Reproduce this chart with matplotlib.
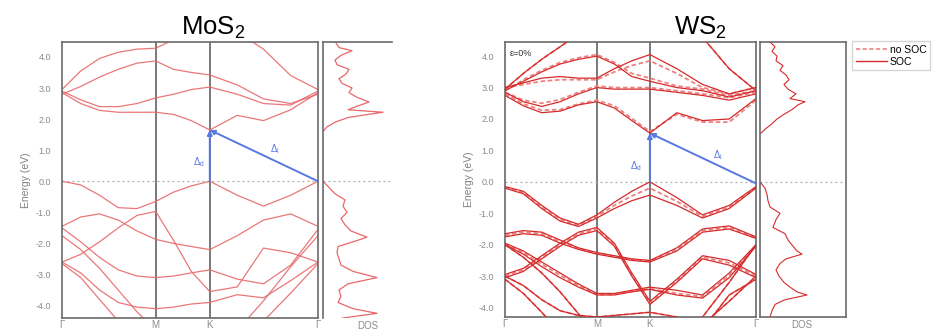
import matplotlib
matplotlib.use('Agg')
import matplotlib.pyplot as plt
from matplotlib.lines import Line2D

# ==========================================
# 1. DATA
# ==========================================
# k-path positions (Gamma-M = 1): G, M, K, G plus sample points in between
kpts = [0.0, 0.2, 0.4, 0.6, 0.8, 1.0, 1.19, 1.38, 1.577, 1.87, 2.15, 2.44, 2.732]
hs_pos = [0.0, 1.0, 1.577, 2.732]
hs_labels = ['Γ', 'M', 'K', 'Γ']

# MoS2 bands (eV)
mos2_c1 = [2.85, 2.5, 2.28, 2.22, 2.22, 2.22, 2.15, 1.95, 1.65, 2.12, 1.95, 2.3, 2.85]
mos2_c2 = [2.9, 2.62, 2.4, 2.4, 2.5, 2.68, 2.8, 2.95, 3.03, 2.8, 2.5, 2.45, 2.9]
mos2_c3 = [2.8, 3.05, 3.35, 3.6, 3.8, 3.87, 3.6, 3.5, 3.42, 3.1, 2.65, 2.5, 2.8]
mos2_c4 = [2.95, 3.55, 3.95, 4.15, 4.25, 4.28, 4.55, 4.8, 4.9, 4.8, 4.25, 3.4, 2.95]
mos2_v1 = [0.0, -0.12, -0.45, -0.85, -0.88, -0.65, -0.35, -0.15, 0.0, -0.45, -0.8, -0.45, 0.0]
mos2_v2 = [-1.45, -1.15, -1.05, -1.25, -1.6, -1.87, -2.0, -2.1, -2.2, -1.75, -1.25, -1.05, -1.45]
mos2_v3 = [-1.5, -1.95, -2.45, -2.85, -3.05, -3.1, -3.05, -2.95, -2.85, -3.15, -3.3, -2.7, -1.55]
mos2_v4 = [-2.6, -2.35, -1.95, -1.5, -1.1, -0.97, -1.9, -2.9, -3.55, -3.4, -2.15, -2.3, -2.6]
mos2_v5 = [-1.75, -2.2, -2.8, -3.5, -4.2, -4.8, -5.2, -5.3, -5.3, -4.8, -3.85, -2.75, -1.75]
mos2_v6 = [-2.6, -2.95, -3.5, -3.9, -4.05, -4.1, -4.05, -3.95, -3.9, -3.65, -3.75, -3.2, -2.6]
mos2_v7 = [-2.65, -3.1, -3.8, -4.5, -5.1, -5.5, -5.6, -5.6, -5.6, -5.3, -4.5, -3.6, -2.65]

# MoS2 DOS (arb. units)
mos2_dos_e_val = [-4.5, -4.4, -4.25, -4.1, -3.9, -3.7, -3.5, -3.3, -3.1, -2.9, -2.7, -2.5, -2.3,
                  -2.1, -1.95, -1.8, -1.6, -1.4, -1.2, -1.0, -0.8, -0.6, -0.4, -0.2, 0.0]
mos2_dos_val = [1.0, 2.0, 5.4, 3.0, 1.5, 1.8, 1.6, 2.5, 5.4, 3.0, 1.8, 1.6, 1.4,
                1.5, 3.0, 4.4, 2.8, 2.2, 1.8, 2.4, 2.0, 2.2, 1.2, 0.6, 0.0]
mos2_dos_e_con = [1.6, 1.75, 1.9, 2.05, 2.15, 2.22, 2.3, 2.4, 2.55, 2.7, 2.85, 3.0, 3.15,
                  3.3, 3.45, 3.6, 3.75, 3.9, 4.05, 4.2, 4.3, 4.45]
mos2_dos_con = [0.0, 0.4, 1.2, 2.5, 4.5, 6.0, 2.5, 3.3, 4.6, 3.4, 2.6, 2.9, 1.9,
                1.6, 2.3, 2.6, 1.4, 1.2, 1.8, 2.9, 1.6, 1.3]

# WS2 bands with SOC (eV)
ws2_c1 = [2.75, 2.42, 2.2, 2.25, 2.45, 2.55, 2.35, 1.95, 1.55, 2.2, 1.95, 2.0, 2.65]
ws2_c2 = [2.85, 2.55, 2.4, 2.55, 2.8, 3.0, 2.95, 2.95, 2.95, 2.85, 2.75, 2.6, 2.8]
ws2_c3 = [2.9, 3.2, 3.5, 3.75, 3.9, 4.0, 3.75, 3.35, 3.2, 3.0, 2.9, 2.7, 2.9]
ws2_c4 = [2.95, 3.45, 3.9, 4.3, 4.7, 5.0, 5.0, 5.0, 5.0, 5.0, 4.6, 3.6, 2.9]
ws2_c5 = [3.0, 3.15, 3.3, 3.35, 3.3, 3.3, 3.6, 3.85, 4.05, 3.6, 3.1, 2.8, 3.0]
ws2_v1a = [-0.15, -0.3, -0.75, -1.15, -1.35, -1.05, -0.65, -0.3, 0.0, -0.5, -1.05, -0.75, -0.15]
ws2_v1b = [-0.2, -0.38, -0.85, -1.25, -1.42, -1.15, -0.85, -0.6, -0.42, -0.75, -1.15, -0.85, -0.2]
ws2_v2a = [-1.65, -1.55, -1.6, -1.85, -2.1, -2.25, -2.35, -2.45, -2.5, -2.1, -1.5, -1.4, -1.75]
ws2_v2b = [-1.75, -1.65, -1.7, -1.95, -2.15, -2.3, -2.4, -2.5, -2.55, -2.2, -1.6, -1.5, -1.8]
ws2_v3a = [-1.95, -2.2, -2.55, -2.9, -3.25, -3.55, -3.55, -3.45, -3.35, -3.45, -3.6, -2.9, -2.0]
ws2_v3b = [-2.0, -2.3, -2.7, -3.05, -3.35, -3.6, -3.6, -3.5, -3.42, -3.6, -3.7, -3.05, -2.05]
ws2_v4a = [-2.95, -2.75, -2.35, -1.95, -1.6, -1.45, -1.95, -2.9, -3.8, -3.1, -2.35, -2.5, -2.95]
ws2_v4b = [-3.05, -2.85, -2.45, -2.05, -1.7, -1.55, -2.05, -3.0, -3.9, -3.2, -2.45, -2.65, -3.05]
ws2_v5 = [-2.0, -2.4, -2.9, -3.5, -4.2, -4.8, -5.2, -5.4, -5.4, -5.0, -4.3, -3.2, -2.0]
ws2_v6 = [-3.0, -3.3, -3.75, -4.1, -4.25, -4.3, -4.25, -4.2, -4.15, -4.3, -4.55, -3.8, -3.0]
ws2_v7 = [-3.1, -3.55, -4.15, -4.8, -5.3, -5.6, -5.6, -5.6, -5.6, -5.4, -4.7, -3.6, -3.1]

# WS2 bands without SOC (eV)
ws2_ns_c1 = [2.8, 2.48, 2.28, 2.3, 2.48, 2.6, 2.42, 2.02, 1.6, 2.15, 1.9, 1.9, 2.6]
ws2_ns_c2 = [2.85, 2.6, 2.5, 2.62, 2.85, 3.05, 3.0, 3.0, 3.0, 2.9, 2.8, 2.68, 2.85]
ws2_ns_c3 = [2.9, 3.25, 3.55, 3.8, 3.95, 4.05, 3.8, 3.45, 3.3, 3.05, 2.95, 2.75, 2.9]
ws2_ns_c5 = [3.0, 3.1, 3.2, 3.25, 3.25, 3.25, 3.5, 3.7, 3.85, 3.45, 3.0, 2.8, 3.0]
ws2_ns_v1 = [-0.17, -0.34, -0.8, -1.2, -1.38, -1.1, -0.75, -0.45, -0.2, -0.62, -1.1, -0.8, -0.17]
ws2_ns_v2 = [-1.7, -1.6, -1.65, -1.9, -2.12, -2.27, -2.37, -2.47, -2.52, -2.15, -1.55, -1.45, -1.78]
ws2_ns_v3 = [-1.97, -2.25, -2.62, -2.97, -3.3, -3.58, -3.58, -3.48, -3.4, -3.55, -3.65, -2.98, -2.02]
ws2_ns_v4 = [-3.0, -2.8, -2.4, -2.0, -1.65, -1.5, -2.0, -2.95, -3.85, -3.15, -2.4, -2.58, -3.0]

# WS2 DOS (arb. units)
ws2_dos_e_val = [0.0, -0.2, -0.4, -0.6, -0.8, -1.0, -1.2, -1.45, -1.65, -1.85, -2.05, -2.2, -2.3,
                 -2.45, -2.6, -2.8, -3.0, -3.2, -3.35, -3.5, -3.6, -3.75, -3.9, -4.1, -4.3]
ws2_dos_val = [0.0, 0.5, 0.7, 0.8, 1.0, 2.0, 1.6, 1.3, 2.5, 2.8, 3.3, 3.7, 4.2,
               2.6, 2.0, 1.6, 1.9, 2.4, 3.0, 3.7, 4.7, 2.5, 1.5, 1.2, 1.0]
ws2_dos_e_con = [1.55, 1.7, 1.85, 2.0, 2.15, 2.3, 2.45, 2.55, 2.65, 2.8, 2.95, 3.1, 3.25,
                 3.4, 3.55, 3.7, 3.85, 4.0, 4.15, 4.3, 4.45]
ws2_dos_con = [0.1, 0.6, 1.2, 1.7, 2.4, 3.2, 3.8, 4.5, 3.0, 3.6, 2.8, 2.4, 2.9,
               2.6, 2.0, 2.3, 1.6, 1.7, 1.2, 1.5, 1.0]

# gap arrows: band edges (k, E)
mos2_vbm_k, mos2_vbm_e, mos2_cbm_k, mos2_cbm_e = 2.732, 0.0, 1.577, 1.65
ws2_vbm_k, ws2_vbm_e, ws2_cbm_k, ws2_cbm_e = 2.732, -0.05, 1.577, 1.55

# ==========================================
# 2. STYLE
# ==========================================
plt.rcParams['font.family'] = ['Liberation Sans', 'DejaVu Sans']
plt.rcParams['mathtext.default'] = 'regular'

band_red = '#e8686a'
soc_red = '#d62a2a'
nosoc_red = '#ee8080'
frame = '#6a6a6a'
tick_grey = '#8a8a8a'
blue = '#5878e0'

W, H = 940, 333
fig = plt.figure(figsize=(W / 100, H / 100), dpi=100)


def px_axes(x0, x1, y0, y1):
    return fig.add_axes([x0 / W, 1 - y1 / H, (x1 - x0) / W, (y1 - y0) / H])


def style_band_ax(ax, ylim):
    ax.set_xlim(0, 2.732)
    ax.set_ylim(*ylim)
    for x in hs_pos[1:3]:
        ax.axvline(x, color='#555555', lw=1.1, zorder=1)
    ax.axhline(0, color='#aaaaaa', lw=0.9, ls=(0, (1.5, 2.5)), zorder=1)
    ax.set_xticks(hs_pos)
    ax.set_xticklabels(hs_labels)
    ax.set_yticks([-4, -3, -2, -1, 0, 1, 2, 3, 4])
    ax.set_yticklabels(['%.1f' % v for v in [-4, -3, -2, -1, 0, 1, 2, 3, 4]])
    ax.tick_params(axis='x', length=0, labelsize=7, colors=tick_grey, pad=1.5)
    ax.tick_params(axis='y', length=0, labelsize=6.5, colors=tick_grey, pad=8)
    ax.set_ylabel('Energy (eV)', fontsize=7.5, color='#808080', labelpad=3)
    for s in ax.spines.values():
        s.set_color(frame)
        s.set_linewidth(1.2)


def style_dos_ax(ax, xmax, ylim):
    ax.set_xlim(0, xmax)
    ax.set_ylim(*ylim)
    ax.set_xticks([])
    ax.set_yticks([])
    ax.axhline(0, color='#aaaaaa', lw=0.9, ls=(0, (1.5, 2.5)), zorder=1)
    for s in ax.spines.values():
        s.set_color(frame)
        s.set_linewidth(1.2)


def gap_arrows(ax, vbm_k, vbm_e, cbm_k, cbm_e):
    props = dict(arrowstyle='-|>', color=blue, lw=1.4, mutation_scale=7,
                 shrinkA=0, shrinkB=0)
    ax.annotate('', xy=(cbm_k, cbm_e), xytext=(cbm_k, 0.0), arrowprops=props, zorder=4)
    ax.annotate('', xy=(cbm_k, cbm_e), xytext=(vbm_k, vbm_e), arrowprops=props, zorder=4)


# ==========================================
# 3. MoS2
# ==========================================
mos2_ylim = (-4.4, 4.48)
ax1 = px_axes(62, 318, 42, 318)
style_band_ax(ax1, mos2_ylim)
for band in [mos2_c1, mos2_c2, mos2_c3, mos2_c4, mos2_v1, mos2_v2, mos2_v3,
             mos2_v4, mos2_v5, mos2_v6, mos2_v7]:
    ax1.plot(kpts, band, color=band_red, lw=0.9, alpha=0.9, zorder=2)

gap_arrows(ax1, mos2_vbm_k, mos2_vbm_e, mos2_cbm_k, mos2_cbm_e)
ax1.text(1.46, 0.6, r'$\Delta_d$', color=blue, fontsize=7, ha='center', va='center')
ax1.text(2.27, 1.05, r'$\Delta_i$', color=blue, fontsize=7, ha='center', va='center')
ax1.set_title('MoS$_2$', fontsize=18.5, color='black', pad=5, x=0.59)

ax1d = px_axes(323, 392, 42, 318)
style_dos_ax(ax1d, 6.9, mos2_ylim)
ax1d.spines['right'].set_visible(False)
ax1d.spines['bottom'].set_visible(False)
ax1d.plot(mos2_dos_val, mos2_dos_e_val, color=band_red, lw=0.9)
ax1d.plot(mos2_dos_con, mos2_dos_e_con, color=band_red, lw=0.9)
fig.text(368 / W, 1 - 326 / H, 'DOS', fontsize=7, color=tick_grey, ha='center', va='center')

# ==========================================
# 4. WS2
# ==========================================
ws2_ylim = (-4.3, 4.45)
ax2 = px_axes(505, 756, 42, 317)
style_band_ax(ax2, ws2_ylim)
for band in [ws2_ns_c1, ws2_ns_c2, ws2_ns_c3, ws2_ns_c5, ws2_c4, ws2_ns_v1,
             ws2_ns_v2, ws2_ns_v3, ws2_ns_v4, ws2_v5, ws2_v6, ws2_v7]:
    ax2.plot(kpts, band, color=nosoc_red, lw=1.3, ls=(0, (2.5, 1.5)), zorder=2)
for band in [ws2_c1, ws2_c2, ws2_c3, ws2_c4, ws2_c5, ws2_v1a, ws2_v1b, ws2_v2a,
             ws2_v2b, ws2_v3a, ws2_v3b, ws2_v4a, ws2_v4b, ws2_v5, ws2_v6, ws2_v7]:
    ax2.plot(kpts, band, color=soc_red, lw=0.9, zorder=3)

gap_arrows(ax2, ws2_vbm_k, ws2_vbm_e, ws2_cbm_k, ws2_cbm_e)
ax2.text(1.42, 0.5, r'$\Delta_d$', color=blue, fontsize=7, ha='center', va='center')
ax2.text(2.32, 0.85, r'$\Delta_i$', color=blue, fontsize=7, ha='center', va='center')
ax2.text(0.05, 4.1, 'ε=0%', fontsize=6.5, color='#333333', ha='left', va='center')
ax2.set_title('WS$_2$', fontsize=18.5, color='black', pad=5, x=0.78)

ax2d = px_axes(760, 846, 42, 317)
style_dos_ax(ax2d, 8.6, ws2_ylim)
ax2d.plot(ws2_dos_val, ws2_dos_e_val, color=soc_red, lw=0.8)
ax2d.plot(ws2_dos_con, ws2_dos_e_con, color=soc_red, lw=0.8)
fig.text(802 / W, 1 - 325 / H, 'DOS', fontsize=7, color=tick_grey, ha='center', va='center')

# Legend
handles = [Line2D([], [], color=nosoc_red, lw=1.2, ls=(0, (2.5, 1.5))),
           Line2D([], [], color=soc_red, lw=1.0)]
fig.legend(handles, ['no SOC', 'SOC'], loc='upper left',
           bbox_to_anchor=(852 / W, 1 - 41 / H), fontsize=7.5, frameon=True,
           edgecolor='#cccccc', fancybox=False, handlelength=3.0, handletextpad=0.3,
           borderpad=0.35, labelspacing=0.2, borderaxespad=0)

fig.savefig('out.png', dpi=100)
